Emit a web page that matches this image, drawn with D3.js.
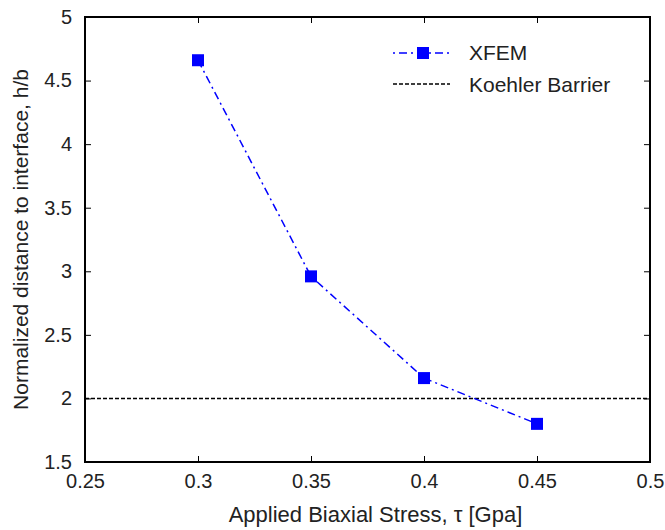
<!DOCTYPE html>
<html>
<head>
<meta charset="utf-8">
<script src="https://cdn.jsdelivr.net/npm/d3@7"></script>
<style>
  body { margin: 0; background: #fff; }
  text { font-family: "Liberation Sans", Arial, sans-serif; fill: #222; }
</style>
</head>
<body>
<div id="chart"></div>
<script>
const stress = [0.3, 0.35, 0.4, 0.45];
const distance = [4.66, 2.96, 2.16, 1.80];
const koehler = 2;
const xTicks = [0.25, 0.3, 0.35, 0.4, 0.45, 0.5];
const yTicks = [1.5, 2, 2.5, 3, 3.5, 4, 4.5, 5];

const W = 665, H = 530;
const margin = { top: 17, right: 15, bottom: 68, left: 85 },
      width = W - margin.left - margin.right,
      height = H - margin.top - margin.bottom;

const svg = d3.select("#chart").append("svg")
  .attr("width", W).attr("height", H)
  .append("g")
  .attr("transform", `translate(${margin.left},${margin.top})`);

const x = d3.scaleLinear().domain([0.25, 0.5]).range([0, width]);
const y = d3.scaleLinear().domain([1.5, 5]).range([height, 0]);

// ticks inward on all four sides
const tick = 6;
function axes(g, axis, tr) {
  const a = g.append("g").attr("transform", tr).call(axis);
  a.select(".domain").remove();
  a.selectAll(".tick line").attr("stroke", "#000");
  return a;
}
const bottom = axes(svg, d3.axisBottom(x).tickValues(xTicks).tickSizeInner(-tick).tickSizeOuter(0).tickPadding(12).tickFormat(d3.format("")), `translate(0,${height})`);
axes(svg, d3.axisTop(x).tickValues(xTicks).tickSizeInner(-tick).tickSizeOuter(0).tickFormat(""), "translate(0,0)");
const left = axes(svg, d3.axisLeft(y).tickValues(yTicks).tickSizeInner(-tick).tickSizeOuter(0).tickPadding(13).tickFormat(d3.format("")), "translate(0,0)");
axes(svg, d3.axisRight(y).tickValues(yTicks).tickSizeInner(-tick).tickSizeOuter(0).tickFormat(""), `translate(${width},0)`);
bottom.selectAll("text").style("font-size", "20px").attr("fill", "#222");
left.selectAll("text").style("font-size", "20px").attr("fill", "#222");

// frame
svg.append("rect")
  .attr("width", width).attr("height", height)
  .attr("fill", "none").attr("stroke", "#000").attr("stroke-width", 2);

// Koehler barrier
svg.append("line")
  .attr("x1", 0).attr("x2", width)
  .attr("y1", y(koehler)).attr("y2", y(koehler))
  .attr("stroke", "#000").attr("stroke-width", 1.5)
  .attr("stroke-dasharray", "4,2");

// XFEM line
const pts = stress.map((s, i) => [s, distance[i]]);
svg.append("path")
  .datum(pts)
  .attr("fill", "none")
  .attr("stroke", "#0000ff")
  .attr("stroke-width", 1.5)
  .attr("stroke-dasharray", "8,4,2,4")
  .attr("d", d3.line().x(d => x(d[0])).y(d => y(d[1])));

const ms = 12;
svg.selectAll(".pt").data(pts).enter().append("rect")
  .attr("x", d => x(d[0]) - ms / 2)
  .attr("y", d => y(d[1]) - ms / 2)
  .attr("width", ms).attr("height", ms)
  .attr("fill", "#0000ff");

// legend
const lg = svg.append("g").attr("transform", "translate(308,0)");
lg.append("line").attr("x1", 0).attr("x2", 57).attr("y1", 36).attr("y2", 36)
  .attr("stroke", "#0000ff").attr("stroke-width", 1.5).attr("stroke-dasharray", "2,4,8,4");
lg.append("rect").attr("x", 30 - ms / 2).attr("y", 36 - ms / 2).attr("width", ms).attr("height", ms).attr("fill", "#0000ff");
lg.append("text").attr("x", 76).attr("y", 43).style("font-size", "21px").text("XFEM");
lg.append("line").attr("x1", 0).attr("x2", 57).attr("y1", 67).attr("y2", 67)
  .attr("stroke", "#000").attr("stroke-width", 1.5).attr("stroke-dasharray", "4,2");
lg.append("text").attr("x", 76).attr("y", 75).style("font-size", "21px").text("Koehler Barrier");

// axis labels
svg.append("text")
  .attr("x", width / 2 + 8).attr("y", height + 60)
  .attr("text-anchor", "middle").style("font-size", "22px")
  .text("Applied Biaxial Stress, τ [Gpa]");
svg.append("text")
  .attr("transform", "rotate(-90)")
  .attr("x", -height / 2).attr("y", -57)
  .attr("text-anchor", "middle").style("font-size", "21px")
  .text("Normalized distance to interface, h/b");
</script>
</body>
</html>
